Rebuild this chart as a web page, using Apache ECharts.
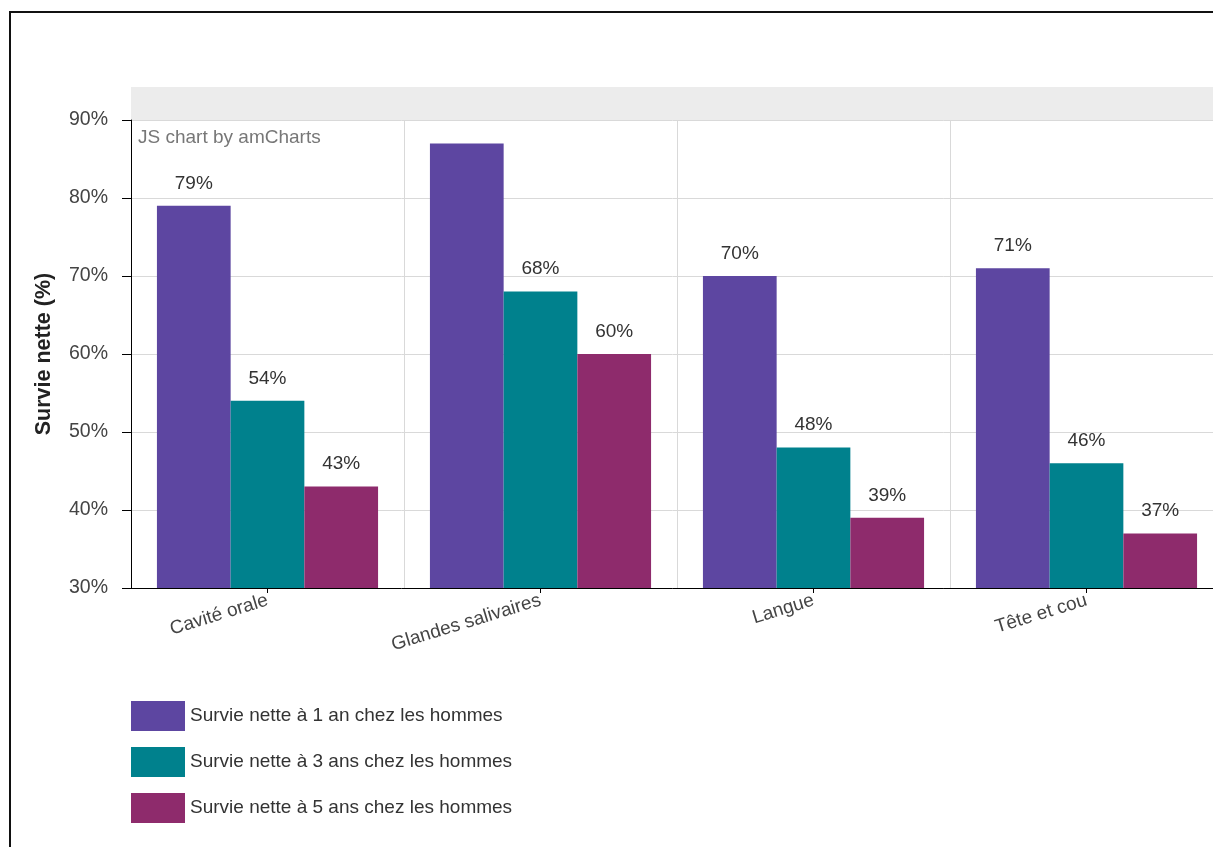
<!DOCTYPE html>
<html>
<head>
<meta charset="utf-8">
<script src="https://cdn.jsdelivr.net/npm/echarts@6/dist/echarts.min.js"></script>
<style>
html,body{margin:0;padding:0;background:#fff;}
#chart{width:1213px;height:847px;}
</style>
</head>
<body>
<div id="chart"></div>
<script>
const categories = ['Cavité orale', 'Glandes salivaires', 'Langue', 'Tête et cou'];
const seriesNames = [
  'Survie nette à 1 an chez les hommes',
  'Survie nette à 3 ans chez les hommes',
  'Survie nette à 5 ans chez les hommes'
];
const oneYear = [79, 87, 70, 71];
const threeYears = [54, 68, 48, 46];
const fiveYears = [43, 60, 39, 37];
const colors = ['#5d46a1', '#00818d', '#8e2b6c'];
const yTicks = [30, 40, 50, 60, 70, 80, 90];

const FONT = '"Liberation Sans", Arial, sans-serif';
const chart = echarts.init(document.getElementById('chart'));

function makeSeries(name, values, color) {
  return {
    name: name,
    type: 'bar',
    barGap: '0%',
    barCategoryGap: '19%',
    itemStyle: { color: color },
    data: values.map(v => ({
      value: v,
      label: { show: v < 85 }
    })),
    label: {
      show: true,
      position: 'top',
      distance: 13,
      color: '#333',
      fontSize: 19,
      fontFamily: FONT,
      formatter: p => p.value + '%'
    },
    emphasis: { disabled: true }
  };
}

chart.setOption({
  animation: false,
  textStyle: { fontFamily: FONT },
  color: colors,
  grid: { left: 131, top: 120, width: 1092, bottom: 259, containLabel: false, outerBoundsMode: 'none' },
  graphic: [
    { type: 'rect', shape: { x: 131, y: 87, width: 1082, height: 33 }, style: { fill: '#ececec' }, z: -1 },
    { type: 'line', shape: { x1: 10, y1: 11, x2: 10, y2: 847 }, style: { stroke: '#111', lineWidth: 2 } },
    { type: 'line', shape: { x1: 9, y1: 12, x2: 1213, y2: 12 }, style: { stroke: '#111', lineWidth: 2 } },
    { type: 'text', left: 138, top: 128, style: { text: 'JS chart by amCharts', fill: '#777', font: '19px ' + FONT } }
  ],
  legend: {
    orient: 'vertical',
    left: 131,
    top: 701,
    padding: 0,
    itemWidth: 54,
    itemHeight: 30,
    itemGap: 16,
    icon: 'rect',
    selectedMode: false,
    textStyle: { color: '#333', fontSize: 19, fontFamily: FONT },
    data: seriesNames
  },
  xAxis: {
    type: 'category',
    data: categories,
    axisLine: { show: true, lineStyle: { color: '#000', width: 1 } },
    axisTick: { show: true, alignWithLabel: true, length: 5, lineStyle: { color: '#000' } },
    axisLabel: { rotate: 17, margin: 12, color: '#444', fontSize: 19, fontFamily: FONT },
    splitLine: { show: true, lineStyle: { color: '#d9d9d9', width: 1 } }
  },
  yAxis: {
    type: 'value',
    min: yTicks[0],
    max: yTicks[yTicks.length - 1],
    interval: 10,
    name: 'Survie nette (%)',
    nameLocation: 'middle',
    nameGap: 76,
    nameTextStyle: { color: '#222', fontSize: 21.5, fontWeight: 'bold', fontFamily: FONT },
    axisLine: { show: true, lineStyle: { color: '#000', width: 1 } },
    axisTick: { show: true, length: 9, lineStyle: { color: '#000' } },
    axisLabel: { margin: 23, color: '#444', fontSize: 19.5, fontFamily: FONT, formatter: v => v + '%' },
    splitLine: { show: true, lineStyle: { color: '#d9d9d9', width: 1 } }
  },
  series: [
    makeSeries(seriesNames[0], oneYear, colors[0]),
    makeSeries(seriesNames[1], threeYears, colors[1]),
    makeSeries(seriesNames[2], fiveYears, colors[2])
  ]
});
</script>
</body>
</html>
